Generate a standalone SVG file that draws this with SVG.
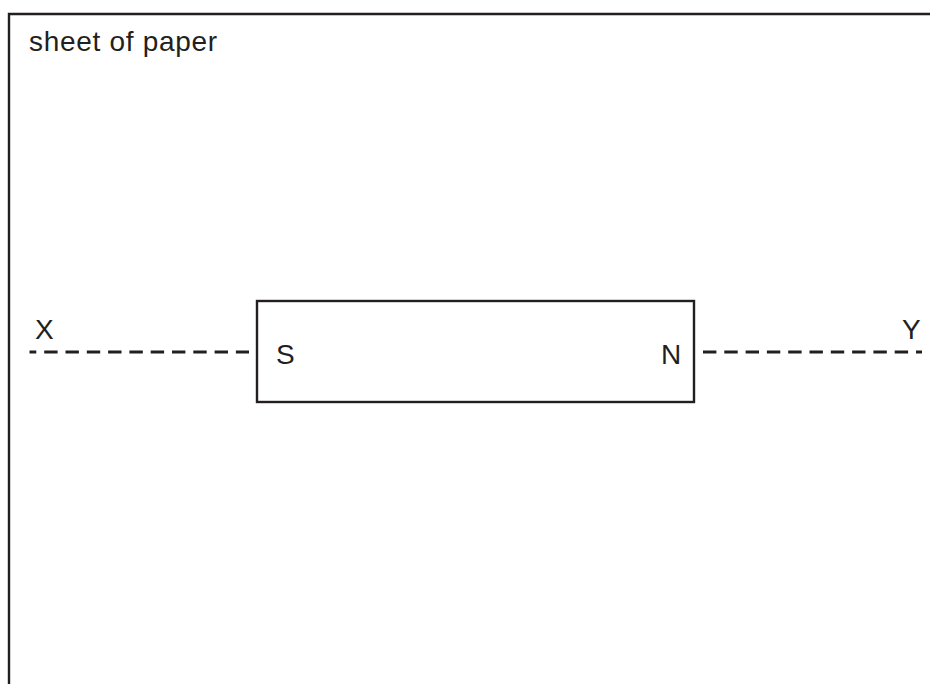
<svg xmlns="http://www.w3.org/2000/svg" width="930" height="684" viewBox="0 0 930 684">
<style>
.t{font-family:"Liberation Sans",Arial,sans-serif;font-size:28px;fill:#231f20}
.line{stroke:#231f20;stroke-width:2.4;fill:none}
.dash{stroke:#231f20;stroke-width:2.8;stroke-dasharray:13.4 7.9;fill:none}
</style>
<rect width="930" height="684" fill="#fff"/>
<g id="paper">
<path class="line" d="M9,684 V14 H930"/>
<text class="t" x="29" y="51" letter-spacing="0.7">sheet of paper</text>
</g>
<g id="magnet">
<rect class="line" x="257" y="301" width="437" height="101"/>
<text class="t" x="276" y="364">S</text>
<text class="t" x="661" y="364">N</text>
</g>
<g id="connectors">
<line class="dash" x1="29.5" y1="352" x2="249" y2="352" stroke-dashoffset="6.6"/>
<line class="dash" x1="703" y1="352" x2="922" y2="352"/>
</g>
<g id="labels">
<text class="t" x="35" y="339">X</text>
<text class="t" x="902" y="339">Y</text>
</g>
</svg>
